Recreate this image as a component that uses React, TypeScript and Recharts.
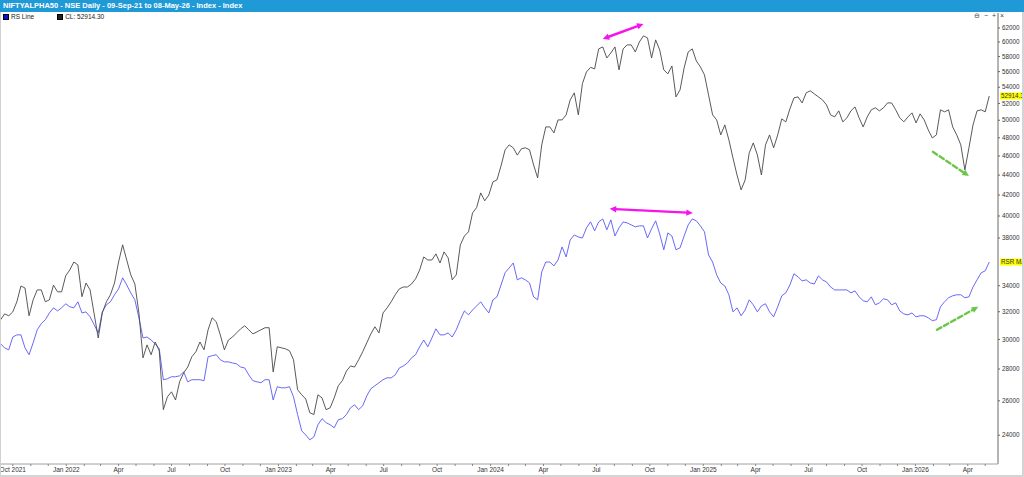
import { LineChart, Line, XAxis, YAxis, ReferenceLine } from 'recharts'

// weekly closes, Fridays from 10-Sep-21 to 08-May-26
const START = Date.UTC(2021, 8, 10)
const STEP = 7 * 86400000

// NIFTY ALPHA 50 close
const closeValues = [
  31400, 31840, 31700, 31990, 32750, 33980, 33820, 31700, 32900, 33670,
  33670, 32750, 32900, 34050, 33520, 33520, 34790, 35270, 35930, 35690,
  33140, 34220, 33670, 31840, 30100, 31910, 32750, 33290, 34220, 35930,
  37400, 36100, 34870, 34140, 31910, 28740, 29620, 28950, 29820, 29220,
  25470, 26240, 26550, 26050, 27180, 27750, 28130, 28810, 29150, 29820,
  29280, 30680, 31550, 31260, 30320, 29280, 29960, 30170, 30460, 30750,
  30970, 30680, 30390, 30530, 30680, 30830, 30830, 27810, 29490, 29420,
  29350, 29220, 28610, 26680, 26370, 26110, 25290, 25180, 26370, 26180,
  25470, 25580, 26180, 26930, 27250, 27870, 28200, 28130, 28610, 29150,
  29760, 30390, 30900, 30460, 31910, 32290, 32750, 33290, 33750, 33900,
  33900, 34140, 34550, 35270, 36360, 36100, 36100, 36620, 35850, 36790,
  36280, 34470, 34870, 37400, 38180, 38550, 40290, 40790, 42210, 41440,
  42010, 43310, 43510, 44960, 46670, 47210, 46890, 46100, 46780, 46890,
  46670, 45060, 43710, 47210, 49230, 49230, 48550, 50040, 50040, 50630,
  52430, 53300, 50630, 54460, 55960, 56560, 56360, 59050, 59320, 57810,
  58500, 59320, 56230, 59050, 59600, 59600, 58630, 60010, 60870, 60580,
  57810, 60300, 58910, 56230, 55710, 56750, 52800, 53670, 56490, 58630,
  59050, 57410, 56620, 55580, 53050, 50630, 50040, 48320, 49460, 47760,
  45800, 44010, 42510, 43510, 46340, 47430, 46120, 44010, 47210, 48320,
  46890, 48320, 50160, 49810, 51350, 52680, 52800, 52060, 53300, 53550,
  53170, 52800, 52430, 51820, 50630, 50390, 51110, 49810, 50280, 51110,
  51580, 50280, 49230, 50390, 51230, 51470, 51110, 51470, 52060, 52060,
  51230, 50280, 49810, 50390, 50870, 49690, 50750, 50040, 48890, 47980,
  48320, 51230, 50990, 51230, 49230, 48320, 47210, 44530, 46890, 49460,
  51110, 51230, 50990, 52914.3,
]

// RS line (plotted on the price scale)
const rsValues = [
  29690, 29420, 29280, 30170, 30320, 30320, 29420, 28950, 29760, 30680,
  31120, 31410, 31910, 32290, 32060, 32290, 32600, 32370, 32290, 32750,
  31910, 31990, 31620, 31040, 30460, 31990, 32520, 32750, 33290, 33750,
  34630, 34060, 33440, 32900, 31550, 30100, 30170, 29960, 29690, 29350,
  27310, 27370, 27500, 27500, 27560, 27810, 27180, 27310, 27310, 27310,
  27250, 28810, 28880, 28950, 28610, 28470, 28470, 28400, 28340, 28130,
  28070, 27620, 27250, 27180, 27120, 27310, 27310, 26050, 26870, 26800,
  26800, 26870, 26240, 25180, 24250, 24010, 23740, 23900, 24590, 24940,
  24710, 24590, 24420, 24880, 24940, 25180, 25580, 25760, 25470, 25700,
  26300, 26740, 26930, 27120, 27310, 27430, 27430, 27620, 28070, 28200,
  28400, 28740, 28950, 29490, 29960, 29490, 30100, 30750, 30320, 30320,
  30460, 30170, 30680, 31410, 32060, 31770, 32130, 32440, 32750, 32290,
  31910, 32900, 33130, 34060, 35040, 35440, 35850, 34470, 34630, 34470,
  34220, 33130, 32900, 35110, 35930, 35930, 35610, 36100, 37220, 36360,
  37830, 38270, 38090, 38000, 38910, 39460, 38640, 39450, 39730, 38730,
  39640, 38180, 38910, 39450, 39360, 39180, 39000, 39090, 39090, 38000,
  38820, 39550, 38360, 36970, 38450, 38180, 36970, 37140, 38180, 39180,
  39730, 39550, 39090, 38550, 36530, 35930, 34870, 34220, 33980, 33290,
  31990, 32290, 31700, 32130, 32900, 32520, 31990, 32440, 32600, 31990,
  31620, 32370, 33210, 33440, 34060, 34960, 34710, 34380, 34470, 34220,
  34140, 34790, 34470, 34300, 33900, 33670, 33670, 33670, 33670, 33440,
  33590, 33130, 32830, 32750, 33130, 32520, 32670, 32980, 32900, 32520,
  32670, 32060, 31840, 31770, 31910, 31620, 31700, 31700, 31550, 31340,
  31410, 32370, 32750, 33060, 33210, 33290, 33290, 33060, 33130, 33900,
  34470, 35040, 35200, 35930,
]

// 36000 is covered by the RS tag
const yTicks = [24000, 26000, 28000, 30000, 32000, 34000, 38000, 40000, 42000, 44000, 46000, 48000, 50000, 52000, 54000, 56000, 58000, 60000, 62000]
const MONTHS = ['Jan', 'Feb', 'Mar', 'Apr', 'May', 'Jun', 'Jul', 'Aug', 'Sep', 'Oct', 'Nov', 'Dec']

const magentaArrows = [
  { from: ['2024-07-12', 60440], to: ['2024-09-20', 62580] },
  { from: ['2024-07-24', 40670], to: ['2024-12-14', 40290] },
]
const greenArrows = [
  { from: ['2026-01-31', 46450], to: ['2026-04-03', 43910] },
  { from: ['2026-02-07', 30680], to: ['2026-04-19', 32370] },
]

const ts = (d: string) => Date.parse(d + 'T00:00:00Z')

const data = closeValues.map((c, i) => ({ t: START + i * STEP, close: c, rs: rsValues[i] }))

// every month gets a tick, only quarters get a label
const xTicks: number[] = []
for (let m = 9; m <= 9 + 55; m++) xTicks.push(Date.UTC(2021 + Math.floor(m / 12), m % 12, 1))

const fmtX = (v: number) => {
  const d = new Date(v)
  const m = d.getUTCMonth()
  if (m % 3 !== 0) return ''
  if (m === 0 || v === xTicks[0]) return `${MONTHS[m]} ${d.getUTCFullYear()}`
  return MONTHS[m]
}

const FONT = '"Liberation Sans", Arial, sans-serif'

function arrowShape(color: string, dashed: boolean, both: boolean) {
  return (p: any) => {
    const x1 = Number(p.x1), y1 = Number(p.y1), x2 = Number(p.x2), y2 = Number(p.y2)
    const a = Math.atan2(y2 - y1, x2 - x1)
    const L = 6.5, W = 3.2
    const head = (x: number, y: number, ang: number) => {
      const bx = x - L * Math.cos(ang), by = y - L * Math.sin(ang)
      const px = -Math.sin(ang) * W, py = Math.cos(ang) * W
      return `${x},${y} ${bx + px},${by + py} ${bx - px},${by - py}`
    }
    const sx = both ? x1 + (L - 1) * Math.cos(a) : x1
    const sy = both ? y1 + (L - 1) * Math.sin(a) : y1
    const ex = x2 - (L - 1) * Math.cos(a), ey = y2 - (L - 1) * Math.sin(a)
    return (
      <g>
        <line x1={sx} y1={sy} x2={ex} y2={ey} stroke={color} strokeWidth={2.4}
          strokeDasharray={dashed ? '5 3' : undefined} strokeLinecap={dashed ? 'round' : 'butt'} />
        <polygon points={head(x2, y2, a)} fill={color} />
        {both && <polygon points={head(x1, y1, a + Math.PI)} fill={color} />}
      </g>
    )
  }
}

// yellow last-value tag sitting on the right axis
function tagShape(text: string) {
  return (p: any) => {
    const right = Math.max(Number(p.x1), Number(p.x2))
    const y = Number(p.y1)
    return (
      <g>
        <rect x={right + 2} y={y - 3.5} width={26} height={7} fill="#ffff00" />
        <text x={right + 3} y={y + 2.3} fontSize={6.3} fill="#333" fontFamily={FONT}>{text}</text>
      </g>
    )
  }
}

export default function App() {
  return (
    <div style={{ position: 'absolute', left: 0, top: 0, width: 1024, height: 477, background: '#fff', overflow: 'hidden', fontFamily: FONT }}>
      <LineChart width={1024} height={477} data={data} margin={{ top: 13, right: 0, bottom: 0, left: 0 }}>
        <XAxis dataKey="t" type="number" domain={[Date.UTC(2021, 8, 9), Date.UTC(2026, 4, 23)]} ticks={xTicks}
          tickFormatter={fmtX} interval={0} height={13} tickSize={2} tickMargin={1}
          axisLine={{ stroke: '#a0a0a0' }} tickLine={{ stroke: '#888' }}
          tick={{ fontSize: 6.5, fill: '#333', fontFamily: FONT }} />
        <YAxis orientation="right" scale="log" domain={[22440, 64200]} allowDataOverflow ticks={yTicks} interval={0}
          width={26} tickSize={2} tickMargin={2}
          axisLine={{ stroke: '#b4b4b4', strokeWidth: 2 }} tickLine={{ stroke: '#666' }}
          tick={{ fontSize: 6.3, fill: '#333', fontFamily: FONT }} />
        <Line type="linear" dataKey="rs" stroke="#5858f6" strokeWidth={0.9} dot={false} isAnimationActive={false} />
        <Line type="linear" dataKey="close" stroke="#474747" strokeWidth={0.9} dot={false} isAnimationActive={false} />
        {magentaArrows.map((a, i) => (
          <ReferenceLine key={'m' + i} segment={[{ x: ts(a.from[0] as string), y: a.from[1] }, { x: ts(a.to[0] as string), y: a.to[1] }]}
            shape={arrowShape('#f514ec', false, true)} />
        ))}
        {greenArrows.map((a, i) => (
          <ReferenceLine key={'g' + i} segment={[{ x: ts(a.from[0] as string), y: a.from[1] }, { x: ts(a.to[0] as string), y: a.to[1] }]}
            shape={arrowShape('#6cc64a', true, false)} />
        ))}
        <ReferenceLine y={closeValues[closeValues.length - 1]} shape={tagShape('52914.3')} />
        <ReferenceLine y={rsValues[rsValues.length - 1]} shape={tagShape('RSR MA')} />
      </LineChart>

      <div style={{ position: 'absolute', left: 0, top: 0, width: 1024, height: 12, background: '#1f9ad6', color: '#fff', fontWeight: 'bold', fontSize: 7.5, lineHeight: '12px', paddingLeft: 3, boxSizing: 'border-box' }}>
        NIFTYALPHA50 - NSE Daily - 09-Sep-21 to 08-May-26 - Index - Index
      </div>
      <div style={{ position: 'absolute', left: 3, top: 13, fontSize: 6.5, lineHeight: '8px', color: '#222', display: 'flex', alignItems: 'center' }}>
        <span style={{ display: 'inline-block', width: 4, height: 4, background: '#1010d0', border: '0.5px solid #000', marginRight: 2 }} />
        <span style={{ marginRight: 23 }}>RS Line</span>
        <span style={{ display: 'inline-block', width: 4, height: 4, background: '#222', border: '0.5px solid #000', marginRight: 2 }} />
        <span>CL: 52914.30</span>
      </div>
      <div style={{ position: 'absolute', left: 974, top: 12, fontSize: 7, lineHeight: '8px', color: '#444', letterSpacing: 1 }}>⊖ − + ×</div>
      <div style={{ position: 'absolute', left: 0, top: 12, width: 1, height: 465, background: '#d0d0d0' }} />
      <div style={{ position: 'absolute', left: 0, top: 475, width: 1024, height: 2, background: '#d4d4d4' }} />
      <div style={{ position: 'absolute', left: 1022, top: 12, width: 2, height: 465, background: '#d4d4d4' }} />
    </div>
  )
}
